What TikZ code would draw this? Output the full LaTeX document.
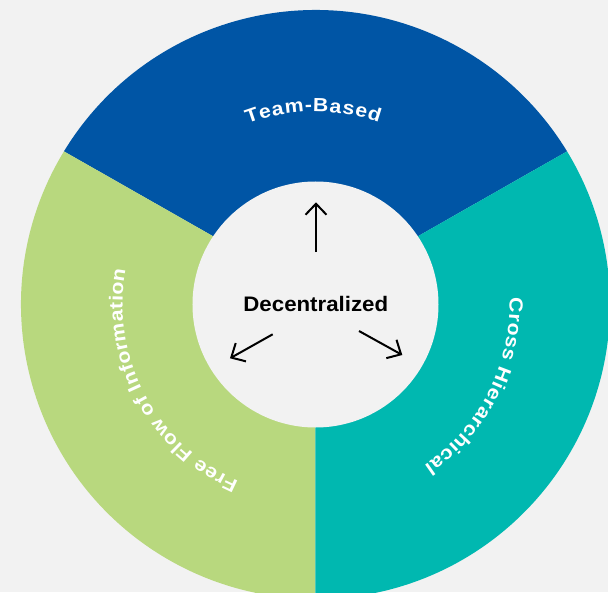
\documentclass[tikz,border=0pt]{standalone}
\usepackage{fontspec}
\setmainfont{Liberation Sans}
\newfontfamily\hubfamily[FakeStretch=1.06]{Liberation Sans}
\newfontfamily\ringfamily[FakeStretch=1.12]{Liberation Sans}
\usetikzlibrary{arrows.meta}

\definecolor{pagebg}{HTML}{F2F2F2}
\definecolor{ringblue}{HTML}{0055A5}
\definecolor{ringteal}{HTML}{00B8B0}
\definecolor{ringgreen}{HTML}{B8D87E}

\def\ringsize{19}
\def\ringstretch{1.12}
\newcommand\ringfont{\ringfamily\bfseries\fontsize{19pt}{23pt}\selectfont}

\makeatletter
% advance widths of the bold sans face, in thousandths of an em
\def\cwdef#1#2{\expandafter\def\csname cw@\string#1\endcsname{#2}}
\cwdef T{611}\cwdef e{556}\cwdef a{556}\cwdef m{889}\cwdef -{333}
\cwdef B{722}\cwdef s{556}\cwdef d{611}\cwdef F{611}\cwdef r{389}
\cwdef l{278}\cwdef o{611}\cwdef w{778}\cwdef f{333}\cwdef I{278}
\cwdef n{611}\cwdef t{333}\cwdef i{278}\cwdef C{722}\cwdef H{722}
\cwdef c{556}\cwdef h{611}\cwdef ~{278}
\newcommand\charwidth[1]{\csname cw@\expandafter\string#1\endcsname}

% Letters set one by one along a clockwise circle, baseline on the circle,
% tops pointing outwards.
% #1 name prefix, #2 radius (pt), #3 middle angle, #4 extra gap (pt), #5 text (~ = space)
\newcount\arcidx
\newcommand\arclabel[5]{%
  \def\arctot{0}%
  \@tfor\arcch:=#5\do{%
    \pgfmathsetmacro\arctot{\arctot + \charwidth\arcch/1000*\ringsize*\ringstretch + #4}}%
  \pgfmathsetmacro\arctot{\arctot - #4}%
  \pgfmathsetmacro\arcang{#3 + 0.5*\arctot/(#2)*180/pi}%
  \arcidx=0
  \@tfor\arcch:=#5\do{%
    \pgfmathsetmacro\arcw{\charwidth\arcch/1000*\ringsize*\ringstretch}%
    \advance\arcidx by 1
    \pgfmathsetmacro\arcmid{\arcang - 0.5*\arcw/(#2)*180/pi}%
    \node[ringletter, rotate=\arcmid-90] (#1-\the\arcidx) at (\arcmid:#2pt) {\arcch};
    \pgfmathsetmacro\arcang{\arcang - (\arcw+#4)/(#2)*180/pi}%
  }%
}
\makeatother

\begin{document}
\begin{tikzpicture}[x=1pt,y=1pt,
  ringletter/.style={inner sep=0pt, anchor=base, text=white, font=\ringfont},
  hublabel/.style={inner sep=0pt, anchor=base, text=black,
    font={\hubfamily\bfseries\fontsize{21pt}{25pt}\selectfont}},
  spoke/.style={line width=2pt, line cap=butt,
    -{Straight Barb[length=11pt,width=21pt]}}]

\useasboundingbox (-315.5,-287.5) rectangle (292.5,304.5);
\clip (-315.5,-287.5) rectangle (292.5,304.5);
\fill[pagebg] (-315.5,-287.5) rectangle (292.5,304.5);

% ring segments (dividers meet slightly above the centre)
\coordinate (apex) at (0,10);
\fill[ringblue] (apex) -- (148.67:294.5)
  arc[start angle=148.67, end angle=31.33, radius=294.5] -- cycle;
\fill[ringgreen] (apex) -- (148.67:294.5)
  arc[start angle=148.67, end angle=270, radius=294.5] -- cycle;
\fill[ringteal] (apex) -- (-90:294.5)
  arc[start angle=-90, end angle=31.33, radius=294.5] -- cycle;

% hub
\fill[pagebg] (0,0) circle[radius=123];
\node[hublabel] (hub) at (0.3,-7.2) {Decentralized};

% spokes
\coordinate (upTail) at (0.5,52.5);
\coordinate (upTip) at (0.5,102.2);
\coordinate (leftTail) at (-42.8,-29.8);
\coordinate (leftTip) at (-85.5,-53.8);
\coordinate (rightTail) at (43.5,-26.5);
\coordinate (rightTip) at (86.8,-50.5);
\draw[spoke] (upTail) -- (upTip);
\draw[spoke] (leftTail) -- (leftTip);
\draw[spoke] (rightTail) -- (rightTip);

% curved segment labels
\arclabel{team}{192.8}{90.7}{0.85}{Team-Based}
\arclabel{flow}{193}{208}{0.5}{Free~Flow~of~Information}
\arclabel{cross}{194}{-27}{0.5}{Cross~Hierarchical}

\end{tikzpicture}
\end{document}
